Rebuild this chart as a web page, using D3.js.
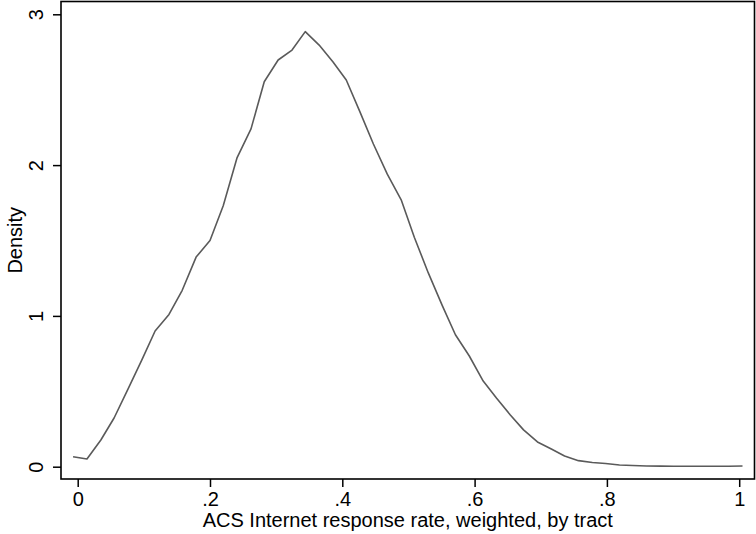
<!DOCTYPE html>
<html>
<head>
<meta charset="utf-8">
<script src="https://cdn.jsdelivr.net/npm/d3@7"></script>
<style>
  body { margin: 0; background: #fff; }
  svg { display: block; }
  text { font-family: "Liberation Sans", Arial, sans-serif; }
</style>
</head>
<body>
<script>
// kernel density estimate, 50 evaluation points
const rateX = [-0.007, 0.014, 0.035, 0.055, 0.076, 0.097, 0.117, 0.138, 0.158, 0.179,
  0.200, 0.220, 0.241, 0.262, 0.282, 0.303, 0.324, 0.344, 0.365, 0.386,
  0.406, 0.427, 0.447, 0.468, 0.489, 0.509, 0.530, 0.551, 0.571, 0.592,
  0.613, 0.633, 0.654, 0.674, 0.695, 0.716, 0.736, 0.757, 0.778, 0.798,
  0.819, 0.839, 0.860, 0.881, 0.901, 0.922, 0.943, 0.963, 0.984, 1.005];
const density = [0.066, 0.051, 0.177, 0.323, 0.515, 0.708, 0.900, 1.010, 1.170, 1.390,
  1.500, 1.730, 2.050, 2.240, 2.553, 2.697, 2.763, 2.885, 2.796, 2.684,
  2.564, 2.350, 2.140, 1.940, 1.770, 1.520, 1.285, 1.070, 0.875, 0.734,
  0.568, 0.455, 0.343, 0.244, 0.164, 0.117, 0.071, 0.040, 0.028, 0.021,
  0.011, 0.008, 0.005, 0.004, 0.003, 0.003, 0.003, 0.003, 0.003, 0.005];
const xTicks = [0, 0.2, 0.4, 0.6, 0.8, 1];
const xTickLabels = ["0", ".2", ".4", ".6", ".8", "1"];
const yTicks = [0, 1, 2, 3];

const w = 756;
const h = 534;
const box = { left: 61, right: 754.5, top: 1.5, bottom: 479 };

const x = d3.scaleLinear().domain([0, 1]).range([77.7, 739.2]);
const y = d3.scaleLinear().domain([0, 3]).range([466.7, 14.3]);

const svg = d3.select("body")
  .append("svg")
  .attr("width", w)
  .attr("height", h);

// x axis
const xAxis = svg.append("g")
  .attr("transform", `translate(0,${box.bottom})`)
  .call(d3.axisBottom(x)
    .tickValues(xTicks)
    .tickSize(8)
    .tickPadding(5)
    .tickFormat((d, i) => xTickLabels[i]));
xAxis.select(".domain").remove();
xAxis.selectAll(".tick line").attr("stroke", "#000").attr("stroke-width", 1.5);
xAxis.selectAll(".tick text")
  .attr("font-size", 20)
  .attr("fill", "#000")
  .style("font-family", '"Liberation Sans", Arial, sans-serif');

// y axis, labels turned on their side
const yAxis = svg.append("g")
  .attr("transform", `translate(${box.left},0)`)
  .call(d3.axisLeft(y)
    .tickValues(yTicks)
    .tickSize(8)
    .tickFormat(d3.format("d")));
yAxis.select(".domain").remove();
yAxis.selectAll(".tick line").attr("stroke", "#000").attr("stroke-width", 1.5);
yAxis.selectAll(".tick text")
  .attr("font-size", 20)
  .attr("fill", "#000")
  .attr("x", null)
  .attr("dy", null)
  .attr("text-anchor", "middle")
  .attr("transform", "translate(-17.7,0) rotate(-90)")
  .style("font-family", '"Liberation Sans", Arial, sans-serif');

// plot region frame
svg.append("rect")
  .attr("x", box.left)
  .attr("y", box.top)
  .attr("width", box.right - box.left)
  .attr("height", box.bottom - box.top)
  .attr("fill", "none")
  .attr("stroke", "#000")
  .attr("stroke-width", 1.6);

// density curve
const line = d3.line()
  .x((d, i) => x(rateX[i]))
  .y(d => y(d));

svg.append("path")
  .datum(density)
  .attr("d", line)
  .attr("fill", "none")
  .attr("stroke", "#5a5a5a")
  .attr("stroke-width", 1.6)
  .attr("stroke-linejoin", "round");

// axis titles
svg.append("text")
  .attr("x", (box.left + box.right) / 2)
  .attr("y", 527)
  .attr("text-anchor", "middle")
  .attr("font-size", 20)
  .text("ACS Internet response rate, weighted, by tract");

svg.append("text")
  .attr("transform", `translate(21.7,${(box.top + box.bottom) / 2}) rotate(-90)`)
  .attr("text-anchor", "middle")
  .attr("font-size", 20)
  .text("Density");
</script>
</body>
</html>
